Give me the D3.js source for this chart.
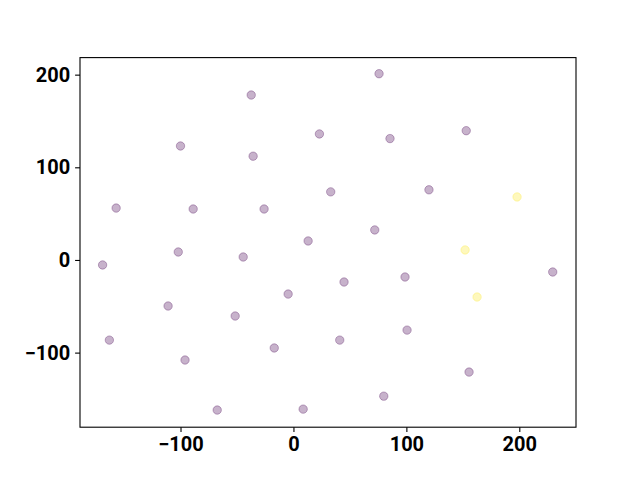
<!DOCTYPE html>
<html>
<head>
<meta charset="utf-8">
<script src="https://cdn.jsdelivr.net/npm/d3@7"></script>
<style>
  body { margin: 0; background: #fff; }
</style>
</head>
<body>
<div id="chart"></div>
<script>
// values
const xs = [75.8, -37.4, -100, 23, 85.5, 153, -35.7, 33, 120, 198,
            -157, -88.8, -26, 13, 72, -102, -44.5, -169, 152, 229.6,
            98.8, 44.8, -4.7, 162.6, -111, -51.6, 100.6, -163, 41, -17,
            -96, 155.5, 80, -67.5, 8.6]
const ys = [201, 178, 123, 136, 131, 139.5, 112, 73.5, 75.7, 68,
            56, 55, 55, 20.5, 32.4, 8.6, 3.2, -5.4, 10.8, -13,
            -18.4, -23.8, -36.8, -40, -49.7, -60.5, -75.7, -86.5, -86.5, -95,
            -108, -121, -147, -162, -161]
const groups = [0, 0, 0, 0, 0, 0, 0, 0, 0, 1,
                0, 0, 0, 0, 0, 0, 0, 0, 1, 0,
                0, 0, 0, 1, 0, 0, 0, 0, 0, 0,
                0, 0, 0, 0, 0]
const xTicks = [-100, 0, 100, 200]
const yTicks = [-100, 0, 100, 200]
const colors = ['#440154', '#fde725']

let width = 640
let height = 480
let margin = { left: 80, right: 64, top: 57.6, bottom: 52.8 }

let points = xs.map((x, i) => ({ x: x, y: ys[i], g: groups[i] }))

let scaleX = d3.scaleLinear()
  .domain([-189, 250.2])
  .range([margin.left, width - margin.right])

let scaleY = d3.scaleLinear()
  .domain([-180.5, 218.4])
  .range([height - margin.bottom, margin.top])

let svg = d3.select('#chart')
  .append('svg')
  .attr('width', width)
  .attr('height', height)

svg.append('g')
  .selectAll('circle')
  .data(points)
  .enter().append('circle')
    .attr('cx', d => scaleX(d.x))
    .attr('cy', d => scaleY(d.y))
    .attr('r', 4.2)
    .attr('fill', d => colors[d.g])
    .attr('fill-opacity', 0.3)
    .attr('stroke', d => colors[d.g])
    .attr('stroke-opacity', 0.3)
    .attr('stroke-width', 1)

// frame
svg.append('rect')
  .attr('x', margin.left)
  .attr('y', margin.top)
  .attr('width', width - margin.left - margin.right)
  .attr('height', height - margin.top - margin.bottom)
  .attr('fill', 'none')
  .attr('stroke', 'black')
  .attr('stroke-width', 1.1)

let styleAxis = g => g
  .call(g => g.select('.domain').remove())
  .call(g => g.selectAll('.tick line').attr('stroke', 'black').attr('stroke-width', 1.1))
  .call(g => g.selectAll('.tick text')
    .attr('fill', 'black')
    .attr('font-family', 'Roboto, sans-serif')
    .attr('font-weight', 'bold')
    .attr('font-size', '20px'))

svg.append('g')
  .attr('transform', `translate(0, ${height - margin.bottom})`)
  .call(d3.axisBottom(scaleX).tickValues(xTicks).tickSize(4.9).tickPadding(4.9)
    .tickFormat(d => d3.format('d')(d).replace('-', '\u2212')))
  .call(styleAxis)

svg.append('g')
  .attr('transform', `translate(${margin.left}, 0)`)
  .call(d3.axisLeft(scaleY).tickValues(yTicks).tickSize(4.9).tickPadding(4.9)
    .tickFormat(d => d3.format('d')(d).replace('-', '\u2212')))
  .call(styleAxis)
</script>
</body>
</html>
